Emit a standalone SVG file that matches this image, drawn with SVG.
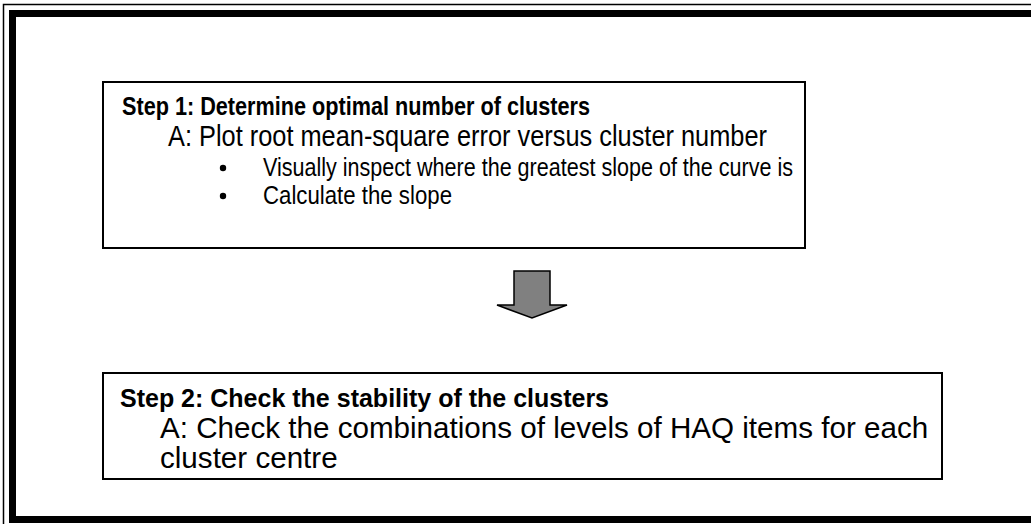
<svg xmlns="http://www.w3.org/2000/svg" width="1031" height="524" viewBox="0 0 1031 524">
<style>
text{font-family:"Liberation Sans",Arial,sans-serif;fill:#000}
.t{font-weight:bold;font-size:25px}
.b{font-size:29.6px}
.s{font-size:25.3px}
.box{fill:#fff;stroke:#000;stroke-width:2}
</style>
<rect x="0" y="0" width="1031" height="524" fill="#fff"/>
<g id="frame">
<rect x="3.5" y="4.5" width="1040" height="540" fill="none" stroke="#000" stroke-width="1.5"/>
<rect x="12.5" y="13.5" width="1030" height="506" fill="none" stroke="#000" stroke-width="7"/>
</g>
<g id="step1">
<rect class="box" x="103" y="82" width="702" height="166"/>
<text class="t" x="122" y="115" textLength="468" lengthAdjust="spacingAndGlyphs">Step 1: Determine optimal number of clusters</text>
<text class="b" x="168" y="146" textLength="599" lengthAdjust="spacingAndGlyphs">A: Plot root mean-square error versus cluster number</text>
<circle cx="223" cy="168" r="3.2"/>
<text class="s" x="263" y="176" textLength="530" lengthAdjust="spacingAndGlyphs">Visually inspect where the greatest slope of the curve is</text>
<circle cx="223" cy="196" r="3.2"/>
<text class="s" x="263" y="204" textLength="189" lengthAdjust="spacingAndGlyphs">Calculate the slope</text>
</g>
<g id="connectors">
<polygon points="514,271 550,271 550,305 567,305 532,318 497,305 514,305" fill="#808080" stroke="#000" stroke-width="1.5"/>
</g>
<g id="step2">
<rect class="box" x="103" y="373" width="839" height="106"/>
<text class="t" x="120" y="407">Step 2: Check the stability of the clusters</text>
<text class="b" x="160" y="438">A: Check the combinations of levels of HAQ items for each</text>
<text class="b" x="160" y="468">cluster centre</text>
</g>
</svg>
